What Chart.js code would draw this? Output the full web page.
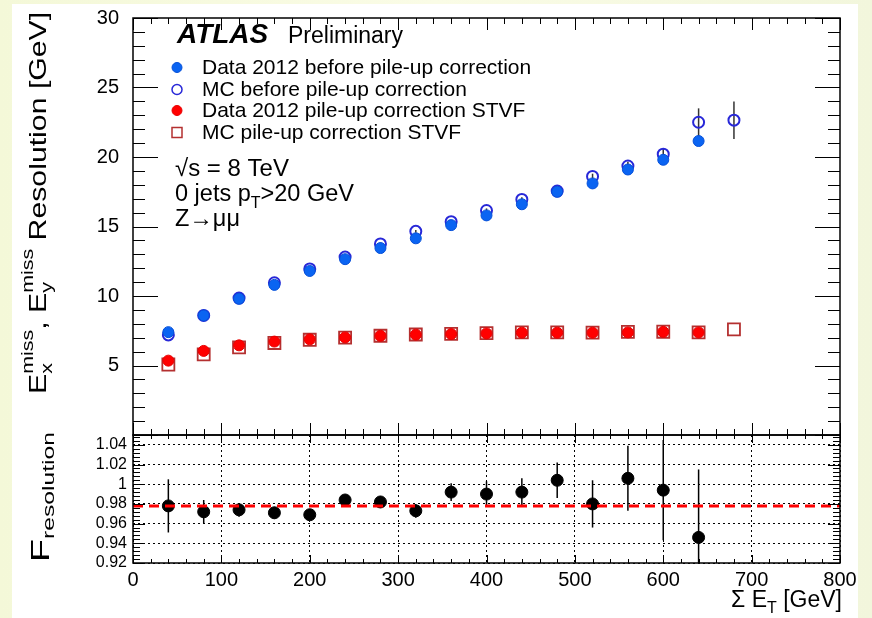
<!DOCTYPE html>
<html>
<head>
<meta charset="utf-8">
<title>MET resolution vs sum ET</title>
<script src="https://cdn.jsdelivr.net/npm/chart.js@4.4.1/dist/chart.umd.min.js"></script>
<style>
  html, body { margin: 0; padding: 0; }
  body {
    width: 872px; height: 618px; position: relative; overflow: hidden;
    background: linear-gradient(90deg, #f4f8d8 0%, #fafce6 50%, #f2f6dc 100%);
  }
  #paper { position: absolute; left: 12px; top: 4px; width: 846px; height: 614px; background: #fff; }
  canvas { position: absolute; left: 0; top: 0; }
</style>
</head>
<body>
<div id="paper"></div>
<canvas id="mainPanel" width="872" height="618"></canvas>
<canvas id="ratioPanel" width="872" height="618"></canvas>
<script>
// Sum E_T bin centres [GeV]
const sumEt   = [40, 80, 120, 160, 200, 240, 280, 320, 360, 400, 440, 480, 520, 560, 600, 640];
const sumEtMC = [40, 80, 120, 160, 200, 240, 280, 320, 360, 400, 440, 480, 520, 560, 600, 640, 680];

// resolution [GeV]
const dataBefore    = [7.4, 8.6, 9.8, 10.8, 11.8, 12.65, 13.45, 14.15, 15.1, 15.8, 16.6, 17.5, 18.1, 19.1, 19.8, 21.15];
const dataBeforeErr = [0.02, 0.02, 0.02, 0.02, 0.03, 0.03, 0.03, 0.04, 0.05, 0.05, 0.06, 0.08, 0.1, 0.12, 0.15, 0.25];
const mcBefore      = [7.2, 8.6, 9.85, 10.95, 11.95, 12.8, 13.75, 14.65, 15.35, 16.15, 16.95, 17.55, 18.6, 19.35, 20.2, 22.5, 22.65];
const mcBeforeErr   = [0.05, 0.05, 0.05, 0.05, 0.05, 0.05, 0.1, 0.1, 0.1, 0.15, 0.15, 0.2, 0.2, 0.3, 0.45, 1.0, 1.35];
const dataStvf      = [5.35, 6.05, 6.45, 6.72, 6.88, 7.02, 7.14, 7.22, 7.26, 7.31, 7.36, 7.36, 7.36, 7.38, 7.42, 7.38];
const mcStvf        = [5.07, 5.8, 6.3, 6.62, 6.85, 7.0, 7.14, 7.23, 7.28, 7.33, 7.38, 7.38, 7.36, 7.42, 7.43, 7.38, 7.6];

// F_resolution ratio panel
const ratio    = [0.978, 0.972, 0.974, 0.971, 0.969, 0.984, 0.982, 0.973, 0.992, 0.990, 0.992, 1.004, 0.980, 1.006, 0.994, 0.946];
const ratioErr = [0.027, 0.012, 0.007, 0.006, 0.004, 0.005, 0.006, 0.007, 0.009, 0.013, 0.014, 0.018, 0.024, 0.033, 0.051, 0.069];
const ratioFit = 0.978;

const xRange = [0, 800];
const xTicks = [0, 100, 200, 300, 400, 500, 600, 700, 800];
const yRange = [0, 30];
const yTicks = [5, 10, 15, 20, 25, 30];
const ratioRange = [0.92, 1.05];
const ratioTicks = [0.92, 0.94, 0.96, 0.98, 1.0, 1.02, 1.04];

const legendLabels = [
    'Data 2012 before pile-up correction',
    'MC before pile-up correction',
    'Data 2012 pile-up correction STVF',
    'MC pile-up correction STVF'
];

const FONT = "'Liberation Sans', Arial, Helvetica, sans-serif";
const pts = (xs, ys) => xs.map((x, i) => ({ x, y: ys[i] }));
const fixedTicks = list => s => { s.ticks = list.map(v => ({ value: v })); };

// --- small rich-text helper (sub/superscripts, rotation, stretch) ---
function partFont(p) {
    return `${p.italic ? 'italic ' : ''}${p.bold ? 'bold ' : ''}${p.size}px ${FONT}`;
}
function measureParts(ctx, parts) {
    let w = 0;
    parts.forEach(p => {
        const items = p.stack || [p];
        w += Math.max(...items.map(s => { ctx.font = partFont(s); return ctx.measureText(s.text).width; }));
    });
    return w;
}
function drawParts(ctx, parts, x, y, opt = {}) {
    ctx.save();
    ctx.translate(x, y);
    ctx.rotate(opt.rotate || 0);
    ctx.scale(opt.stretch || 1, 1);
    ctx.fillStyle = '#000';
    ctx.textBaseline = 'alphabetic';
    ctx.textAlign = 'left';
    let cx = opt.align === 'right' ? -measureParts(ctx, parts) : 0;
    parts.forEach(p => {
        const items = p.stack || [p];
        let adv = 0;
        items.forEach(s => {
            ctx.font = partFont(s);
            ctx.fillText(s.text, cx, s.dy || 0);
            adv = Math.max(adv, ctx.measureText(s.text).width);
        });
        cx += adv;
    });
    ctx.restore();
}

// error bars, drawn under the markers
const errorBars = {
    id: 'errorBars',
    beforeDatasetsDraw(chart) {
        const { ctx, chartArea: a, scales: { x, y } } = chart;
        ctx.save();
        ctx.beginPath();
        ctx.rect(a.left, a.top, a.right - a.left, a.bottom - a.top);
        ctx.clip();
        chart.data.datasets.forEach(ds => {
            if (!ds.errors) return;
            ctx.strokeStyle = ds.errorColor || '#000';
            ctx.lineWidth = 1.5;
            ds.data.forEach((p, i) => {
                const e = ds.errors[i];
                const px = x.getPixelForValue(p.x);
                ctx.beginPath();
                ctx.moveTo(px, y.getPixelForValue(p.y - e));
                ctx.lineTo(px, y.getPixelForValue(p.y + e));
                ctx.stroke();
            });
        });
        ctx.restore();
    }
};

// ROOT style frame with inward ticks on all four sides
const rootFrame = {
    id: 'rootFrame',
    afterDatasetsDraw(chart, args, o) {
        const { ctx, chartArea: a, scales: { x, y } } = chart;
        ctx.save();
        ctx.strokeStyle = '#000';
        ctx.lineWidth = 1;
        const seg = (x1, y1, x2, y2) => { ctx.beginPath(); ctx.moveTo(x1, y1); ctx.lineTo(x2, y2); ctx.stroke(); };
        const nx = Math.round((x.max - x.min) / o.xMinor);
        for (let k = 0; k <= nx; k++) {
            const px = Math.round(x.getPixelForValue(x.min + k * o.xMinor)) + 0.5;
            const L = k % o.xPer === 0 ? o.xMajorLen : o.xMinorLen;
            seg(px, a.bottom, px, a.bottom - L);
            seg(px, a.top, px, a.top + L);
        }
        const ny = Math.floor((y.max - y.min) / o.yMinor + 1e-6);
        for (let k = 0; k <= ny; k++) {
            const py = Math.round(y.getPixelForValue(y.min + k * o.yMinor)) + 0.5;
            const L = k % o.yPer === 0 ? o.yMajorLen : o.yMinorLen;
            seg(a.left, py, a.left + L, py);
            seg(a.right, py, a.right - L, py);
        }
        ctx.lineWidth = 1.5;
        ctx.strokeRect(a.left, a.top, a.right - a.left, a.bottom - a.top);
        ctx.restore();
    }
};

// ATLAS label, legend, annotations and y title on the main panel
const mainText = {
    id: 'mainText',
    afterDraw(chart) {
        const ctx = chart.ctx;
        drawParts(ctx, [{ text: 'ATLAS', size: 28, bold: true, italic: true }], 177, 43);
        drawParts(ctx, [{ text: 'Preliminary', size: 23 }], 288, 43);

        const ds = chart.data.datasets;
        const rows = [74, 96, 117, 139];
        rows.forEach((by, i) => {
            const d = ds[i];
            const cx = 177, cy = by - 6.5;
            ctx.save();
            ctx.beginPath();
            if (d.pointStyle === 'rect') ctx.rect(cx - 5, cy - 5, 10, 10);
            else ctx.arc(cx, cy, 5, 0, Math.PI * 2);
            ctx.fillStyle = d.backgroundColor;
            ctx.fill();
            ctx.lineWidth = d.pointStyle === 'rect' || d.backgroundColor === 'rgba(0,0,0,0)' ? 1.5 : 1;
            ctx.strokeStyle = d.borderColor;
            ctx.stroke();
            ctx.restore();
            drawParts(ctx, [{ text: legendLabels[i], size: 21 }], 202, by);
        });

        drawParts(ctx, [{ text: '\u221As = 8 TeV', size: 24 }], 175, 176);
        drawParts(ctx, [{ text: '0 jets p', size: 23.5 }, { text: 'T', size: 16, dy: 7 }, { text: '>20 GeV', size: 23.5 }], 175, 201);
        drawParts(ctx, [{ text: 'Z\u2192\u03bc\u03bc', size: 23.5 }], 175, 226);

        drawParts(ctx, [
            { text: 'E', size: 24 },
            { stack: [{ text: 'x', size: 17, dy: 6 }, { text: 'miss', size: 17, dy: -13 }] },
            { text: ', E', size: 24 },
            { stack: [{ text: 'y', size: 17, dy: 6 }, { text: 'miss', size: 17, dy: -13 }] },
            { text: ' Resolution [GeV]', size: 24 }
        ], 46, 394, { rotate: -Math.PI / 2, stretch: 1.26 });
    }
};

const ratioText = {
    id: 'ratioText',
    afterDraw(chart) {
        const ctx = chart.ctx;
        drawParts(ctx, [{ text: 'F', size: 26 }, { text: 'resolution', size: 17, dy: 5 }],
            49, 562, { rotate: -Math.PI / 2, stretch: 1.45 });
        drawParts(ctx, [{ text: '\u03a3 E', size: 23 }, { text: 'T', size: 16, dy: 6 }, { text: ' [GeV]', size: 23 }],
            842, 607, { align: 'right' });
    }
};

Chart.defaults.font.family = FONT;
Chart.defaults.color = '#000';

new Chart(document.getElementById('mainPanel'), {
    type: 'scatter',
    data: {
        datasets: [
            { label: legendLabels[0], data: pts(sumEt, dataBefore), errors: dataBeforeErr, errorColor: '#1f3fd0',
              pointStyle: 'circle', pointRadius: 5.5, backgroundColor: '#0a64f2', borderColor: '#0650d8', borderWidth: 1 },
            { label: legendLabels[1], data: pts(sumEtMC, mcBefore), errors: mcBeforeErr, errorColor: '#333',
              pointStyle: 'circle', pointRadius: 5.5, backgroundColor: 'rgba(0,0,0,0)', borderColor: '#2828d8', borderWidth: 2 },
            { label: legendLabels[2], data: pts(sumEt, dataStvf),
              pointStyle: 'circle', pointRadius: 5.5, backgroundColor: '#ff0000', borderColor: '#e80000', borderWidth: 1 },
            { label: legendLabels[3], data: pts(sumEtMC, mcStvf),
              pointStyle: 'rect', pointRadius: 8.5, backgroundColor: 'rgba(0,0,0,0)', borderColor: '#b43030', borderWidth: 1.8 }
        ]
    },
    options: {
        responsive: false, animation: false, devicePixelRatio: 1,
        layout: { padding: { left: 0, right: 32, top: 12, bottom: 183 } },
        plugins: { legend: { display: false }, tooltip: { enabled: false }, rootFrame: {
            xMinor: 20, xPer: 5, xMajorLen: 12, xMinorLen: 6,
            yMinor: 1, yPer: 5, yMajorLen: 25, yMinorLen: 12 } },
        scales: {
            x: { type: 'linear', min: xRange[0], max: xRange[1], display: false },
            y: {
                min: yRange[0], max: yRange[1],
                grid: { display: false }, border: { display: false },
                afterBuildTicks: fixedTicks(yTicks),
                ticks: { padding: 6, font: { size: 20 }, color: '#000', autoSkip: false, callback: v => String(v) },
                afterFit: s => { s.width = 133; }
            }
        }
    },
    plugins: [errorBars, rootFrame, mainText]
});

new Chart(document.getElementById('ratioPanel'), {
    type: 'scatter',
    data: {
        datasets: [
            { type: 'line', data: [{ x: xRange[0], y: ratioFit }, { x: xRange[1], y: ratioFit }],
              borderColor: '#ff0000', borderWidth: 3, borderDash: [10, 6], pointRadius: 0, fill: false },
            { data: pts(sumEt, ratio), errors: ratioErr, errorColor: '#000',
              pointStyle: 'circle', pointRadius: 6, backgroundColor: '#000', borderColor: '#000', borderWidth: 1 }
        ]
    },
    options: {
        responsive: false, animation: false, devicePixelRatio: 1,
        layout: { padding: { left: 0, right: 32, top: 435, bottom: 0 } },
        plugins: { legend: { display: false }, tooltip: { enabled: false }, rootFrame: {
            xMinor: 20, xPer: 5, xMajorLen: 8, xMinorLen: 4,
            yMinor: 0.004, yPer: 5, yMajorLen: 12, yMinorLen: 7 } },
        scales: {
            x: {
                type: 'linear', min: xRange[0], max: xRange[1],
                grid: { color: '#000', lineWidth: 1, drawTicks: false },
                border: { display: false, dash: [2, 3] },
                afterBuildTicks: fixedTicks(xTicks),
                ticks: { padding: 5, font: { size: 20 }, color: '#000', autoSkip: false, maxRotation: 0 },
                afterFit: s => { s.height = 55; }
            },
            y: {
                min: ratioRange[0], max: ratioRange[1],
                grid: { color: '#000', lineWidth: 1, drawTicks: false },
                border: { display: false, dash: [2, 3] },
                afterBuildTicks: fixedTicks(ratioTicks),
                ticks: { padding: 6, font: { size: 16 }, color: '#000', autoSkip: false,
                         callback: v => String(+v.toFixed(2)) },
                afterFit: s => { s.width = 133; }
            }
        }
    },
    plugins: [errorBars, rootFrame, ratioText]
});
</script>
</body>
</html>
